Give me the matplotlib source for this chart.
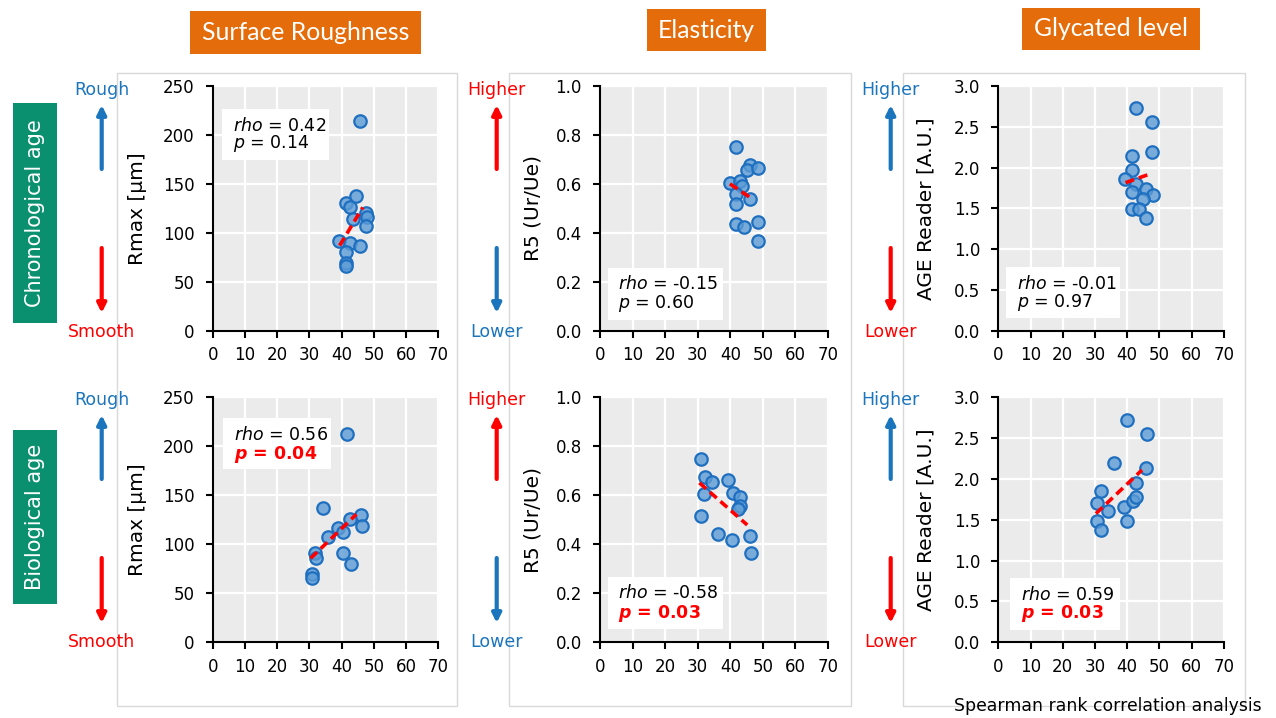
import matplotlib.pyplot as plt
from matplotlib.patches import Rectangle
from matplotlib.text import Annotation
from matplotlib.ticker import MultipleLocator, FormatStrFormatter

W, H = 1276, 718

plt.rcParams['font.family'] = ['DejaVu Sans']
plt.rcParams['mathtext.fontset'] = 'custom'
plt.rcParams['mathtext.rm'] = 'DejaVu Sans'
plt.rcParams['mathtext.it'] = 'DejaVu Sans:italic'
plt.rcParams['mathtext.bf'] = 'DejaVu Sans:bold:italic'

# --- data (x = age in years) ---
chrono_rmax_x = [45.6, 41.3, 42.7, 44.6, 47.6, 47.9, 43.5, 47.7, 39.3, 42.7, 45.6, 41.5, 41.3, 41.3]
chrono_rmax_y = [214, 130, 126, 138, 120, 116.5, 114, 107, 92, 90, 87, 80, 69.5, 66.5]
chrono_rmax_fit_x = [39.4, 46.6]
chrono_rmax_fit_y = [87, 126]

chrono_r5_x = [41.9, 39.9, 43.1, 43.5, 41.9, 46.2, 45.0, 48.4, 46.0, 41.9, 41.9, 44.2, 48.4, 48.4]
chrono_r5_y = [0.751, 0.605, 0.611, 0.590, 0.557, 0.676, 0.658, 0.665, 0.540, 0.516, 0.437, 0.423, 0.443, 0.365]
chrono_r5_fit_x = [39.9, 46.8]
chrono_r5_fit_y = [0.600, 0.538]

chrono_age_x = [42.9, 47.7, 47.7, 41.6, 41.6, 39.4, 42.6, 41.6, 45.7, 47.9, 44.8, 41.6, 43.7, 45.8]
chrono_age_y = [2.73, 2.56, 2.195, 2.14, 1.97, 1.856, 1.795, 1.70, 1.733, 1.66, 1.611, 1.496, 1.496, 1.378]
chrono_age_fit_x = [39.5, 47.7]
chrono_age_fit_y = [1.815, 1.93]

bio_rmax_x = [41.7, 34.2, 46.1, 42.7, 46.2, 38.9, 40.4, 35.7, 31.8, 32.1, 40.6, 43.0, 30.7, 30.8]
bio_rmax_y = [213, 137.5, 129.6, 126.2, 118.7, 116.3, 112.9, 107.5, 91.5, 85.7, 90.8, 79.6, 69.4, 66.0]
bio_rmax_fit_x = [30.4, 44.6]
bio_rmax_fit_y = [85.7, 130.6]

bio_r5_x = [31.1, 32.2, 34.4, 32.0, 39.3, 40.7, 43.1, 43.1, 42.4, 31.0, 36.1, 40.5, 46.2, 46.4]
bio_r5_y = [0.750, 0.673, 0.656, 0.604, 0.662, 0.610, 0.592, 0.555, 0.544, 0.517, 0.443, 0.419, 0.434, 0.364]
bio_r5_fit_x = [30.5, 45.2]
bio_r5_fit_y = [0.651, 0.479]

bio_age_x = [40.1, 46.1, 35.8, 45.8, 42.8, 31.9, 30.6, 33.9, 38.9, 41.7, 42.8, 30.6, 40.1, 31.9]
bio_age_y = [2.722, 2.547, 2.192, 2.131, 1.955, 1.849, 1.702, 1.604, 1.653, 1.735, 1.784, 1.482, 1.482, 1.376]
bio_age_fit_x = [30.3, 44.6]
bio_age_fit_y = [1.576, 2.110]

rho_values = ['0.42', '-0.15', '-0.01', '0.56', '-0.58', '0.59']
p_values = ['0.14', '0.60', '0.97', '0.04', '0.03', '0.03']
p_significant = [False, False, False, True, True, True]

column_titles = ['Surface Roughness', 'Elasticity', 'Glycated level']
row_titles = ['Chronological age', 'Biological age']
y_labels = ['Rmax [μm]', 'R5 (Ur/Ue)', 'AGE Reader [A.U.]']
top_words = ['Rough', 'Higher', 'Higher']
bottom_words = ['Smooth', 'Lower', 'Lower']

BLUE = '#1B75BC'
RED = '#FF0000'
ORANGE = '#E46C0A'
GREEN = '#0A906E'

fig = plt.figure(figsize=(12.76, 7.18), dpi=100)


def fig_rect(x0, y0, x1, y1, **kw):
    # pixel box (top-left origin) -> rectangle in figure coords
    r = Rectangle((x0 / W, 1 - y1 / H), (x1 - x0) / W, (y1 - y0) / H,
                  transform=fig.transFigure, **kw)
    fig.add_artist(r)


def fig_arrow(x, y_from, y_to, color):
    a = Annotation('', xy=(x, H - y_to), xytext=(x, H - y_from),
                   xycoords='figure pixels', textcoords='figure pixels',
                   arrowprops=dict(arrowstyle='-|>', color=color, lw=3,
                                   mutation_scale=13, shrinkA=0, shrinkB=0))
    fig.add_artist(a)


# light grey frames around each column
for x0, x1 in [(116.7, 457.5), (509, 850.7), (902.5, 1245)]:
    fig_rect(x0, 73, x1, 706, fill=False, ec='#D9D9D9', lw=1, zorder=0)

# orange column headers
for title, (x0, y0, x1, y1) in zip(column_titles, [(190, 11, 421, 54), (647, 9, 766, 51), (1022, 8, 1200, 50)]):
    fig_rect(x0, y0, x1, y1, fc=ORANGE, ec='none')
    fig.text((x0 + x1) / 2 / W, 1 - (y0 + y1) / 2 / H, title, color='white',
             fontsize=17.8, family='Lato', ha='center', va='center')

# green row headers
for title, (y0, y1) in zip(row_titles, [(103, 323), (430, 604)]):
    fig_rect(12.7, y0, 56.7, y1, fc=GREEN, ec='none')
    fig.text(34.7 / W, 1 - (y0 + y1) / 2 / H, title, color='white', rotation=90,
             fontsize=15, ha='center', va='center')

# direction arrows next to each chart
top_colors = [BLUE, RED, BLUE]
bottom_colors = [RED, BLUE, RED]
for col, ax_x in enumerate([101.7, 496.7, 890.7]):
    for off in [0, 310]:
        fig.text(ax_x / W, 1 - (90 + off) / H, top_words[col], color=top_colors[col],
                 fontsize=12.5, ha='center', va='center')
        fig.text(ax_x / W, 1 - (332 + off) / H, bottom_words[col], color=bottom_colors[col],
                 fontsize=12.5, ha='center', va='center')
        fig_arrow(ax_x, 169 + off, 105 + off, top_colors[col])
        fig_arrow(ax_x, 248 + off, 313 + off, bottom_colors[col])


def draw_panel(i, row, col, x, y, fit_x, fit_y, ymax, ystep, yfmt, box, text_x, line_y, ylab_x):
    col_x0 = [212.7, 600, 998.3]
    col_w = [225.5, 228, 225.5]
    row_top = [86, 397.3]
    row_bot = [330.7, 642.3]
    ax = fig.add_axes([col_x0[col] / W, 1 - row_bot[row] / H, col_w[col] / W,
                       (row_bot[row] - row_top[row]) / H])
    ax.set_facecolor('#EBEBEB')
    ax.grid(color='white', lw=1.6)
    ax.set_axisbelow(True)
    for s in ['top', 'right']:
        ax.spines[s].set_visible(False)
    for s in ['left', 'bottom']:
        ax.spines[s].set_linewidth(1.5)
    ax.set_xlim(0, 70)
    ax.set_ylim(0, ymax)
    ax.xaxis.set_major_locator(MultipleLocator(10))
    ax.yaxis.set_major_locator(MultipleLocator(ystep))
    ax.yaxis.set_major_formatter(FormatStrFormatter(yfmt))
    ax.tick_params(direction='out', length=5, width=1.5, labelsize=12)
    ax.tick_params(axis='y', pad=8)
    ax.tick_params(axis='x', pad=6)
    ax.set_ylabel(y_labels[col], fontsize=14.5, va='center')
    ax.yaxis.set_label_coords(ylab_x, 0.5)

    ax.scatter(x, y, s=80, facecolor=(0.36, 0.61, 0.84, 0.8), edgecolor='#1F6FC0',
               linewidth=1.6, zorder=3, clip_on=False)
    ax.plot(fit_x, fit_y, color=RED, lw=2.6, linestyle=(0, (2.5, 1.4)), zorder=4)

    ax.add_patch(Rectangle((box[0], box[1]), box[2] - box[0], box[3] - box[1],
                           transform=ax.transAxes, fc='white', ec='none', zorder=2))
    ax.text(text_x, line_y[0], r'$\mathit{rho}$ = ' + rho_values[i], transform=ax.transAxes,
            fontsize=12.5, va='center', zorder=5)
    if p_significant[i]:
        ax.text(text_x, line_y[1], r'$\mathbf{p}$ = ' + p_values[i], transform=ax.transAxes,
                fontsize=12.5, va='center', color=RED, fontweight='bold', zorder=5)
    else:
        ax.text(text_x, line_y[1], r'$\mathit{p}$ = ' + p_values[i], transform=ax.transAxes,
                fontsize=12.5, va='center', zorder=5)


draw_panel(0, 0, 0, chrono_rmax_x, chrono_rmax_y, chrono_rmax_fit_x, chrono_rmax_fit_y, 250, 50, '%d',
           [0.041, 0.698, 0.516, 0.906], 0.09, [0.838, 0.763], -0.333)
draw_panel(1, 0, 1, chrono_r5_x, chrono_r5_y, chrono_r5_fit_x, chrono_r5_fit_y, 1.0, 0.2, '%.1f',
           [0.035, 0.045, 0.54, 0.258], 0.079, [0.189, 0.112], -0.295)
draw_panel(2, 0, 2, chrono_age_x, chrono_age_y, chrono_age_fit_x, chrono_age_fit_y, 3.0, 0.5, '%.1f',
           [0.034, 0.052, 0.54, 0.26], 0.082, [0.19, 0.114], -0.319)
draw_panel(3, 1, 0, bio_rmax_x, bio_rmax_y, bio_rmax_fit_x, bio_rmax_fit_y, 250, 50, '%d',
           [0.046, 0.706, 0.524, 0.914], 0.096, [0.846, 0.767], -0.333)
draw_panel(4, 1, 1, bio_r5_x, bio_r5_y, bio_r5_fit_x, bio_r5_fit_y, 1.0, 0.2, '%.1f',
           [0.035, 0.056, 0.54, 0.265], 0.08, [0.2, 0.119], -0.295)
draw_panel(5, 1, 2, bio_age_x, bio_age_y, bio_age_fit_x, bio_age_fit_y, 3.0, 0.5, '%.1f',
           [0.052, 0.05, 0.54, 0.262], 0.10, [0.193, 0.116], -0.319)

fig.text(1108 / W, 1 - 706 / H, 'Spearman rank correlation analysis', fontsize=12.4,
         ha='center', va='center')

fig.savefig('out.png', dpi=100)
